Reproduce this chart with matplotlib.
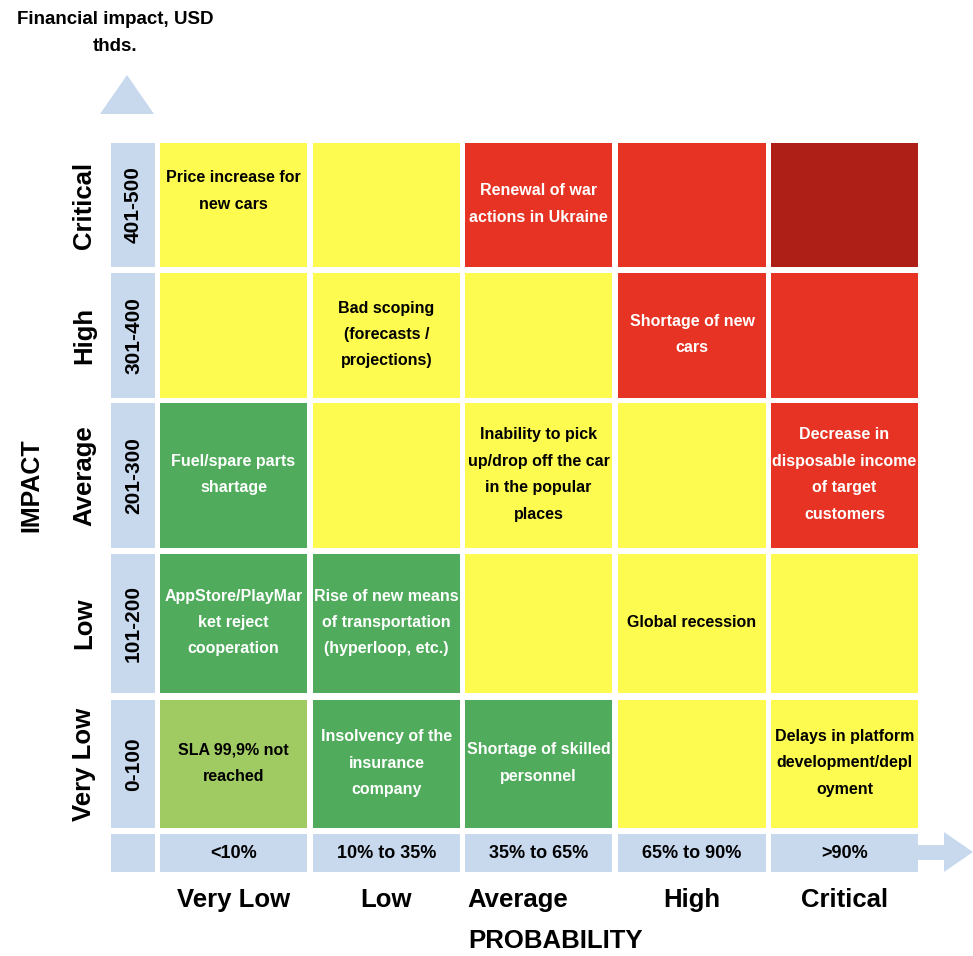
import matplotlib
matplotlib.use("Agg")
from matplotlib import pyplot as plt
from matplotlib import patches

plt.rcParams["font.family"] = ["Liberation Sans", "DejaVu Sans"]
plt.rcParams["font.weight"] = "bold"

# --- data ---
impact_levels = ["Critical", "High", "Average", "Low", "Very Low"]
impact_ranges = ["401-500", "301-400", "201-300", "101-200", "0-100"]
prob_levels = ["Very Low", "Low", "Average", "High", "Critical"]
prob_ranges = ["<10%", "10% to 35%", "35% to 65%", "65% to 90%", ">90%"]

# risk class of each cell, rows top->bottom (impact), cols left->right (probability)
risk_class = [
    ["med", "med", "high", "high", "extreme"],
    ["med", "med", "med", "high", "high"],
    ["low", "med", "med", "med", "high"],
    ["low", "low", "med", "med", "med"],
    ["minimal", "low", "low", "med", "med"],
]

risks = [
    ["Price increase for\nnew cars", "", "Renewal of war\nactions in Ukraine", "", ""],
    ["", "Bad scoping\n(forecasts /\nprojections)", "", "Shortage of new\ncars", ""],
    ["Fuel/spare parts\nshartage", "",
     "Inability to pick\nup/drop off the car\nin the popular\nplaces", "",
     "Decrease in\ndisposable income\nof target\ncustomers"],
    ["AppStore/PlayMar\nket reject\ncooperation",
     "Rise of new means\nof transportation\n(hyperloop, etc.)", "", "Global recession", ""],
    ["SLA 99,9% not\nreached", "Insolvency of the\ninsurance\ncompany",
     "Shortage of skilled\npersonnel", "",
     "Delays in platform\ndevelopment/depl\noyment"],
]

# --- styles / layout (pixels) ---
fill = {"minimal": "#A0CA62", "low": "#50AC5C", "med": "#FEFB50",
        "high": "#E63323", "extreme": "#AE1F18"}
text_col = {"minimal": "black", "low": "white", "med": "black",
            "high": "white", "extreme": "white"}
BLUE = "#C8D9EE"

col_edges = [(160, 307), (313, 460), (465, 612), (618, 766), (771, 918)]
row_edges = [(143, 267), (273, 398), (403, 548), (554, 693), (700, 828)]
label_col = (111, 155)
label_row = (834, 872)
nudge = {(0, 0): -13}  # text sits a bit high in this cell

fig = plt.figure(figsize=(9.73, 9.56), dpi=100)
ax = fig.add_axes([0, 0, 1, 1])
ax.set_xlim(0, 973)
ax.set_ylim(956, 0)
ax.axis("off")


def box(x0, x1, y0, y1, color):
    ax.add_patch(patches.Rectangle((x0, y0), x1 - x0, y1 - y0, facecolor=color,
                                   edgecolor="none"))


# matrix cells
for i, (y0, y1) in enumerate(row_edges):
    for j, (x0, x1) in enumerate(col_edges):
        cls = risk_class[i][j]
        box(x0, x1, y0, y1, fill[cls])
        if risks[i][j]:
            yc = (y0 + y1) / 2 - 1 + nudge.get((i, j), 0)
            ax.text((x0 + x1) / 2, yc, risks[i][j], ha="center",
                    va="center", multialignment="center", fontsize=11.5,
                    linespacing=1.95, color=text_col[cls])

# impact axis: ranges + level names
for i, (y0, y1) in enumerate(row_edges):
    box(label_col[0], label_col[1], y0, y1, BLUE)
    yc = (y0 + y1) / 2
    ax.text(139, yc, impact_ranges[i], rotation=90, rotation_mode="anchor",
            ha="center", va="baseline", fontsize=15)
    ax.text(91, yc, impact_levels[i], rotation=90, rotation_mode="anchor",
            ha="center", va="baseline", fontsize=18.5)

# probability axis: ranges + level names
box(label_col[0], label_col[1], label_row[0], label_row[1], BLUE)
for j, (x0, x1) in enumerate(col_edges):
    box(x0, x1, label_row[0], label_row[1], BLUE)
    ax.text((x0 + x1) / 2, (label_row[0] + label_row[1]) / 2 + 1, prob_ranges[j],
            ha="center", va="center", fontsize=13)
    if prob_levels[j] == "Average":
        ax.text(x0 + 2, 907, prob_levels[j], ha="left", va="baseline", fontsize=18.5)
    else:
        ax.text((x0 + x1) / 2, 907, prob_levels[j], ha="center", va="baseline",
                fontsize=18.5)

ax.text(468, 948, "PROBABILITY", ha="left", va="baseline", fontsize=18.5)
ax.text(38, 485, "IMPACT", rotation=90, rotation_mode="anchor", ha="center",
        va="baseline", fontsize=18)
ax.text(115, 33, "Financial impact, USD\nthds.", ha="center", va="center",
        multialignment="center", fontsize=13.5, linespacing=1.8)

# arrows
ax.add_patch(patches.Polygon([(100, 114), (154, 114), (127, 75)], closed=True,
                             facecolor=BLUE, edgecolor="none"))
ax.add_patch(patches.Polygon([(918, 845), (944, 845), (944, 832), (973, 852),
                              (944, 872), (944, 860), (918, 860)], closed=True,
                             facecolor=BLUE, edgecolor="none"))

fig.savefig("out.png", dpi=100)
